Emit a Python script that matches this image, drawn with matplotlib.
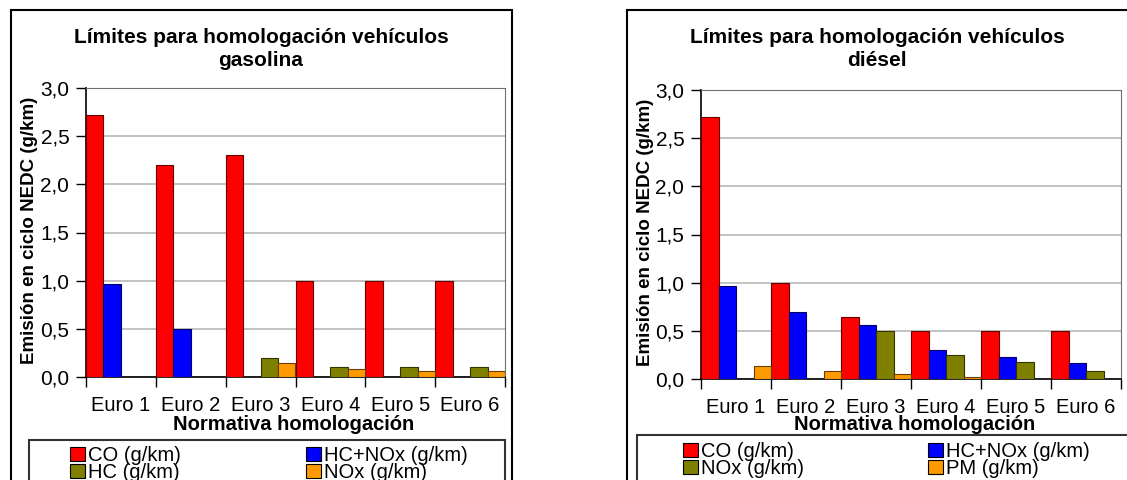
import matplotlib.pyplot as plt
import numpy as np
from matplotlib.patches import Rectangle

plt.rcParams['font.family'] = ['Liberation Sans', 'DejaVu Sans']

categories = ['Euro 1', 'Euro 2', 'Euro 3', 'Euro 4', 'Euro 5', 'Euro 6']
y_ticks = [0.0, 0.5, 1.0, 1.5, 2.0, 2.5, 3.0]
y_tick_labels = ['0,0', '0,5', '1,0', '1,5', '2,0', '2,5', '3,0']

# gasolina
gas_co = [2.72, 2.2, 2.3, 1.0, 1.0, 1.0]
gas_hcnox = [0.97, 0.5, 0, 0, 0, 0]
gas_hc = [0, 0, 0.2, 0.1, 0.1, 0.1]
gas_nox = [0, 0, 0.15, 0.08, 0.06, 0.06]
gas_labels = ['CO (g/km)', 'HC+NOx (g/km)', 'HC (g/km)', 'NOx (g/km)']

# diesel
die_co = [2.72, 1.0, 0.64, 0.5, 0.5, 0.5]
die_hcnox = [0.97, 0.7, 0.56, 0.3, 0.23, 0.17]
die_nox = [0, 0, 0.5, 0.25, 0.18, 0.08]
die_pm = [0.14, 0.08, 0.05, 0.025, 0.005, 0.005]
die_labels = ['CO (g/km)', 'HC+NOx (g/km)', 'NOx (g/km)', 'PM (g/km)']

colors = ['#FF0000', '#0000FF', '#808000', '#FF9900']
edges = ['#660000', '#000066', '#333300', '#664000']

W, H = 1127, 480


def fx(x):
    return x / W


def fy(y):
    return 1 - y / H


fig = plt.figure(figsize=(11.27, 4.8), dpi=100)


def chart(box, axbox, series, labels, title, title_x, ylab_x, xlab_x, leg_box, leg_anchor, colspace):
    # outer chart border
    x0, y0, x1 = box
    fig.patches.append(Rectangle((fx(x0), fy(500)), fx(x1 - x0), (500 - y0) / H,
                                 transform=fig.transFigure, fill=False,
                                 edgecolor='black', linewidth=1.5, clip_on=False))
    l, t, r, b = axbox
    ax = fig.add_axes([fx(l), fy(b), fx(r - l), (b - t) / H])
    x = np.arange(len(categories))
    handles = []
    for j, vals in enumerate(series):
        vals = np.array(vals, dtype=float)
        vals = np.where(vals > 0, vals, np.nan)  # no mark for missing limits
        h = ax.bar(x + 0.125 + j * 0.25, vals, width=0.25, color=colors[j],
                   edgecolor=edges[j], linewidth=0.8, label=labels[j], zorder=3)
        handles.append(h)
    ax.set_xlim(0, 6)
    ax.set_ylim(0, 3)
    ax.set_yticks(y_ticks)
    ax.set_yticklabels(y_tick_labels, fontsize=15)
    ax.set_xticks(np.arange(7))
    ax.set_xticklabels([])
    ax.set_xticks(x + 0.5, minor=True)
    ax.set_xticklabels(categories, minor=True, fontsize=14.5)
    ax.tick_params(axis='x', which='major', length=7, width=1)
    ax.tick_params(axis='x', which='minor', length=0, pad=14)
    ax.tick_params(axis='y', length=7, width=1, pad=5)
    ax.grid(axis='y', color='#B8B8B8', linewidth=1.2, zorder=0)
    for s in ['top', 'right']:
        ax.spines[s].set_color('#707070')
    for s in ['left', 'bottom']:
        ax.spines[s].set_color('black')
        ax.spines[s].set_linewidth(1.2)

    fig.text(fx(title_x), fy(49), title, ha='center', va='center',
             fontsize=15, fontweight='bold', linespacing=1.25)
    fig.text(fx(ylab_x), fy((t + b) / 2 - 2), 'Emisión en ciclo NEDC (g/km)', rotation=90,
             ha='center', va='center', fontsize=13.5, fontweight='bold')
    fig.text(fx(xlab_x), fy(425), 'Normativa homologación', ha='center', va='center',
             fontsize=14.5, fontweight='bold')

    lx0, ly0, lx1 = leg_box
    fig.patches.append(Rectangle((fx(lx0), fy(500)), fx(lx1 - lx0), (500 - ly0) / H,
                                 transform=fig.transFigure, fill=False,
                                 edgecolor='#333333', linewidth=1.5, clip_on=False))
    # legend fills columns first: reorder so rows read CO, HC+NOx / third, fourth
    order = [0, 2, 1, 3]
    leg = fig.legend([handles[i] for i in order], [labels[i] for i in order],
                     loc='upper left', bbox_to_anchor=leg_anchor,
                     ncol=2, frameon=False, fontsize=14.5, handlelength=0.75,
                     handleheight=0.75, handletextpad=0.15, columnspacing=colspace,
                     labelspacing=-0.1, borderpad=0, borderaxespad=0)
    for p in leg.get_patches():
        p.set_edgecolor('black')
    return ax


chart((11, 10, 512), (86, 88, 505, 377), [gas_co, gas_hcnox, gas_hc, gas_nox], gas_labels,
      'Límites para homologación vehículos\ngasolina', 261, 30, 294,
      (29, 440, 505), (fx(70), fy(446)), 6.2)

chart((627, 10, 1140), (701, 90, 1121, 379), [die_co, die_hcnox, die_nox, die_pm], die_labels,
      'Límites para homologación vehículos\ndiésel', 877, 645, 915,
      (637, 435, 1140), (fx(683), fy(442)), 6.15)

fig.savefig('out.png', dpi=100)
